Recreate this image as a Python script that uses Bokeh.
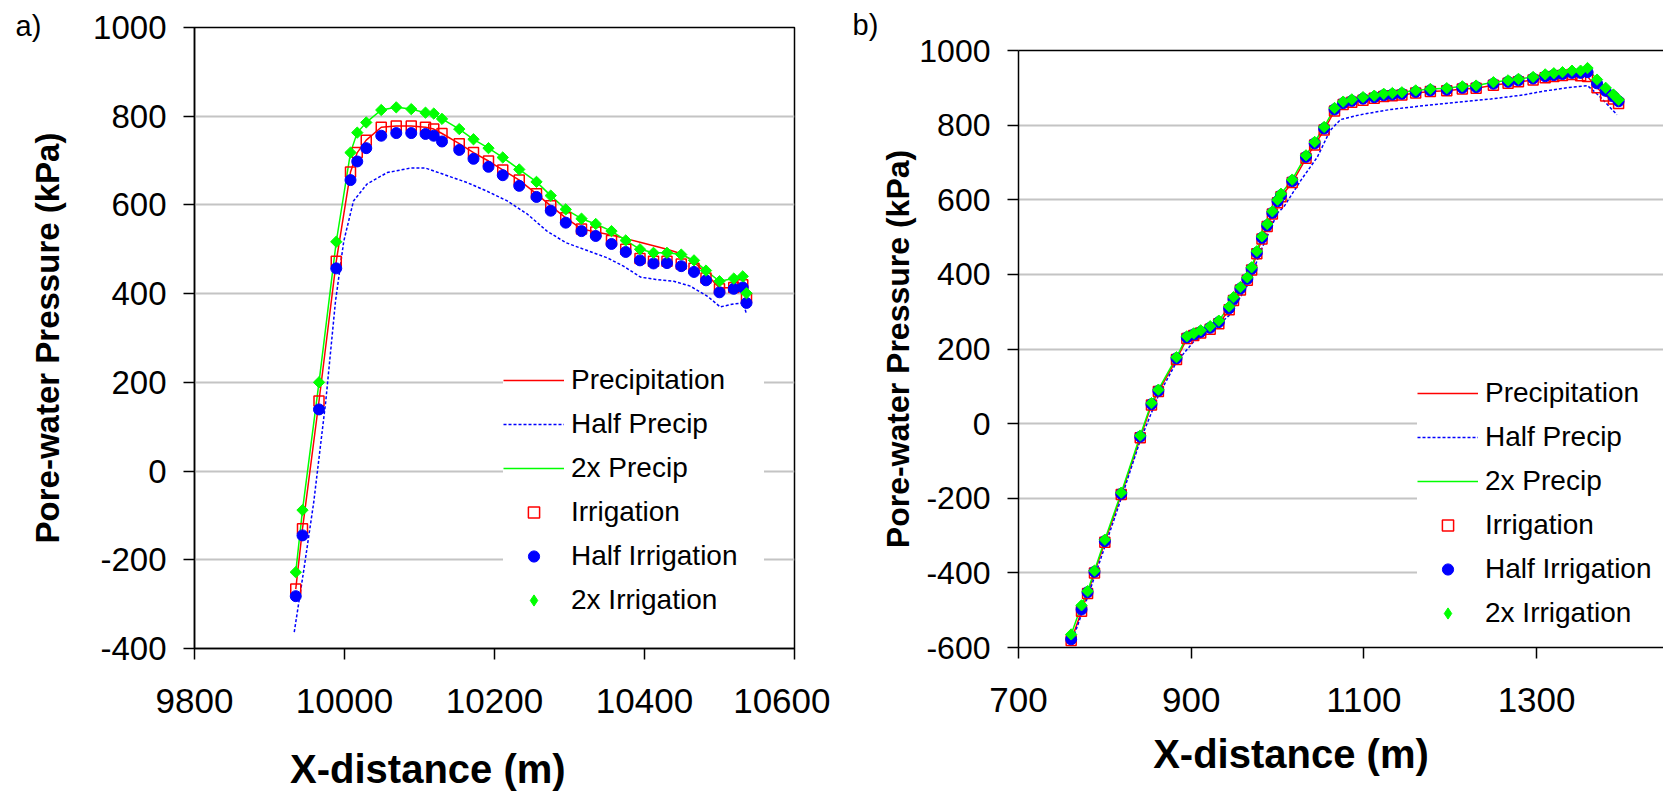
from bokeh.plotting import figure
from bokeh.models import (Range1d, FixedTicker, LinearAxis, Legend, LegendItem, Title)
from bokeh.layouts import row, column
from bokeh.embed import file_html
from bokeh.resources import INLINE
import math

FONT = "Liberation Sans"

# ---------------- Panel a) data ----------------
A_X = [9935, 9944, 9966, 9989, 10008, 10017, 10029, 10049, 10069, 10089, 10108, 10119,
       10130, 10153, 10172, 10192, 10211, 10233, 10256, 10275, 10295, 10316, 10335, 10356,
       10375, 10394, 10412, 10430, 10449, 10466, 10482, 10500, 10519, 10531, 10536]
A_PRECIP = [-266, -130, 158, 473, 674, 718, 746, 775, 778, 778, 775, 771,
            761, 738, 718, 699, 679, 656, 625, 598, 571, 546, 539, 532,
            524, 516, 508, 500, 490, 472, 445, 413, 414, 420, 390]
A_2X_PRECIP = [-228, -88, 200, 517, 718, 763, 786, 814, 820, 816, 808, 806,
               794, 771, 748, 728, 707, 680, 652, 621, 590, 569, 557, 541,
               520, 500, 492, 492, 488, 475, 452, 428, 434, 439, 401]
A_IRRIG = [-266, -130, 158, 473, 674, 718, 746, 775, 778, 778, 775, 771,
           761, 738, 718, 699, 679, 656, 625, 598, 571, 546, 539, 520,
           500, 479, 473, 473, 467, 457, 435, 411, 414, 420, 390]
A_HALF_IRRIG = [-282, -145, 139, 457, 656, 698, 728, 756, 762, 762, 760, 756,
                743, 724, 704, 686, 667, 643, 618, 587, 560, 541, 530, 512,
                494, 475, 468, 469, 462, 449, 430, 403, 411, 414, 379]
A_2X_IRRIG = [-228, -88, 200, 517, 718, 763, 786, 814, 820, 816, 808, 806,
              794, 771, 748, 728, 707, 680, 652, 621, 590, 569, 557, 541,
              520, 500, 492, 492, 488, 475, 452, 428, 434, 439, 401]
A_HALF_PRECIP_X = [9933, 9946, 9959, 9975, 9988, 9999, 10012, 10030, 10057, 10088, 10108,
                   10132, 10164, 10190, 10217, 10244, 10270, 10295, 10319, 10350, 10372,
                   10395, 10415, 10439, 10461, 10484, 10501, 10519, 10532, 10536]
A_HALF_PRECIP = [-363, -220, -70, 157, 383, 518, 609, 647, 673, 683, 683,
                 669, 650, 631, 609, 579, 541, 515, 500, 481, 462,
                 437, 432, 428, 417, 394, 370, 377, 379, 353]

# ---------------- Panel b) data ----------------
B_X = [761, 773, 780, 788, 800, 819, 841, 854, 862, 883, 895, 903, 911, 922, 932, 944,
       949, 957, 965, 970, 976, 982, 988, 994, 1000, 1004, 1017, 1033, 1043, 1054, 1066,
       1076, 1086, 1099, 1112, 1123, 1133, 1144, 1160, 1177, 1196, 1214, 1230, 1250, 1267,
       1279, 1296, 1310, 1320, 1330, 1341, 1351, 1359, 1370, 1380, 1389, 1395]
B_PRECIP = [-581, -503, -455, -400, -318, -190, -38, 50, 86, 172, 228, 236, 243, 253, 268, 305,
            330, 358, 384, 412, 455, 495, 528, 562, 592, 608, 646, 711, 747, 787, 838,
            855, 861, 867, 872, 877, 879, 881, 886, 890, 892, 897, 899, 907, 912,
            916, 921, 927, 930, 933, 936, 932, 930, 900, 878, 870, 858]
B_2X_PRECIP = [-565, -487, -449, -394, -311, -185, -32, 55, 91, 178, 234, 242, 250, 261, 276, 314,
               339, 366, 392, 419, 462, 502, 535, 569, 600, 616, 654, 719, 755, 795, 846,
               863, 869, 875, 879, 884, 886, 888, 893, 897, 899, 904, 906, 915, 920,
               924, 929, 936, 939, 942, 946, 946, 953, 922, 900, 882, 868]
B_IRRIG = [-581, -503, -455, -400, -318, -190, -38, 50, 86, 172, 228, 236, 243, 253, 268, 305,
           330, 358, 384, 412, 455, 495, 528, 562, 592, 608, 646, 711, 747, 787, 838,
           855, 861, 867, 872, 877, 879, 881, 886, 890, 892, 897, 899, 907, 912,
           916, 921, 927, 930, 933, 936, 932, 930, 900, 878, 870, 858]
B_HALF_IRRIG = [-578, -498, -452, -397, -315, -188, -35, 52, 88, 175, 231, 239, 246, 257, 272, 309,
                334, 362, 388, 415, 458, 498, 531, 565, 596, 612, 650, 715, 751, 791, 842,
                859, 865, 871, 875, 880, 882, 884, 889, 893, 895, 900, 902, 911, 916,
                920, 925, 931, 934, 937, 940, 940, 942, 912, 892, 877, 864]
B_2X_IRRIG = [-565, -487, -449, -394, -311, -185, -32, 55, 91, 178, 234, 242, 250, 261, 276, 314,
              339, 366, 392, 419, 462, 502, 535, 569, 600, 616, 654, 719, 755, 795, 846,
              863, 869, 875, 879, 884, 886, 888, 893, 897, 899, 904, 906, 915, 920,
              924, 929, 936, 939, 942, 946, 946, 953, 922, 900, 882, 868]
B_HALF_PRECIP_X = [761, 780, 800, 819, 841, 862, 883, 903, 922, 944, 965, 982, 1000, 1007,
                   1027, 1046, 1061, 1073, 1096, 1131, 1169, 1208, 1247, 1285, 1308, 1335,
                   1359, 1374, 1393]
B_HALF_PRECIP = [-590, -465, -330, -200, -45, 75, 165, 220, 245, 290, 370, 470, 565, 580,
                 652, 714, 786, 815, 828, 842, 852, 861, 870, 881, 891, 900,
                 906, 875, 828]

LABELS = ["Precipitation", "Half Precip", "2x Precip", "Irrigation", "Half Irrigation", "2x Irrigation"]
Y_TICKS_A = [-400, -200, 0, 200, 400, 600, 800, 1000]
X_TICKS_A = [9800, 10000, 10200, 10400, 10600]
Y_TICKS_B = [-600, -400, -200, 0, 200, 400, 600, 800, 1000]
X_TICKS_B = [700, 900, 1100, 1300]
Y_LABEL = "Pore-water Pressure (kPa)"
X_LABEL = "X-distance (m)"
NBSP = "\u00a0"

RED = "#FF0000"
BLUE = "#0000FF"
GREEN = "#00FF00"


def make_panel(width, height, xr, yr, xticks, yticks, borders, ytick_font,
               ylab_font, ylab_standoff, xlabel, xlab_font, xlab_standoff):
    left, right, top, bottom = borders
    p = figure(width=width, height=height, x_range=Range1d(*xr), y_range=Range1d(*yr),
               output_backend="svg", toolbar_location=None,
               min_border_left=left, min_border_right=right,
               min_border_top=top, min_border_bottom=bottom)
    if "frame_align" in p.properties():
        p.frame_align = False
    p.background_fill_color = "white"
    p.border_fill_color = "white"
    p.xgrid.grid_line_color = None
    p.ygrid.grid_line_color = "#C4C4C4"
    p.ygrid.grid_line_width = 2
    p.xaxis.ticker = FixedTicker(ticks=xticks)
    p.yaxis.ticker = FixedTicker(ticks=yticks)
    p.yaxis.major_label_overrides = {t: str(t) for t in yticks}
    for ax in (p.xaxis[0], p.yaxis[0]):
        ax.axis_line_color = "black"
        ax.axis_line_width = 1.5
        ax.major_tick_line_color = "black"
        ax.major_tick_line_width = 1.5
        ax.major_tick_in = 0
        ax.major_tick_out = 11
        ax.minor_tick_line_color = None
        ax.major_label_text_font = FONT
        ax.major_label_text_color = "black"
        ax.axis_label_text_font = FONT
        ax.axis_label_text_font_style = "bold"
        ax.axis_label_text_color = "black"
    p.xaxis.major_label_text_font_size = "35px"
    p.yaxis.major_label_text_font_size = ytick_font
    p.xaxis.major_label_standoff = 29
    p.yaxis.major_label_standoff = 17
    p.yaxis.axis_label = Y_LABEL
    p.yaxis.axis_label_text_font_size = ylab_font
    p.yaxis.axis_label_standoff = ylab_standoff
    p.xaxis.axis_label = xlabel
    p.xaxis.axis_label_text_font_size = xlab_font
    p.xaxis.axis_label_standoff = xlab_standoff
    return p


def add_series(p, xs, precip, half_px, half_p, x2_precip, irrig, half_irrig, x2_irrig):
    r1 = p.line(xs, precip, line_color=RED, line_width=1.5)
    r2 = p.line(half_px, half_p, line_color=BLUE, line_width=1.5, line_dash="3 2")
    r3 = p.line(xs, x2_precip, line_color=GREEN, line_width=1.5)
    r4 = p.scatter(xs, irrig, marker="square", size=10, line_color=RED, line_width=1.5,
                   fill_color="white", fill_alpha=0)
    r5 = p.scatter(xs, half_irrig, marker="circle", size=11, line_color=BLUE, fill_color=BLUE)
    p.scatter(xs, x2_irrig, marker="square", angle=math.pi / 4, size=8,
              line_color=GREEN, fill_color=GREEN)
    # legend swatch for the diamond markers (legend swatches ignore marker angle);
    # it holds no visible point
    r6 = p.scatter([float("nan")], [float("nan")], marker="diamond",
                   line_color=GREEN, fill_color=GREEN)
    return [r1, r2, r3, r4, r5, r6]


def add_legend(p, renderers, loc, padding):
    items = [LegendItem(label=lab, renderers=[r]) for lab, r in zip(LABELS, renderers)]
    lg = Legend(items=items, location=loc, padding=padding, spacing=12,
                glyph_width=61, glyph_height=28, label_height=28, label_width=193,
                label_standoff=7, label_text_font=FONT, label_text_font_size="28px",
                label_text_color="black", background_fill_color="white",
                background_fill_alpha=1, border_line_color=None, margin=0)
    p.add_layout(lg)


# ---------------- Panel a ----------------
pa = make_panel(830, 793, (9800, 10600), (-400, 1000), X_TICKS_A, Y_TICKS_A,
                (194, 36, 27, 145), "33px", "33px", 24,
                X_LABEL + NBSP * 12, "40px", 31)
pa.outline_line_color = "black"
pa.outline_line_width = 1.5
ra = add_series(pa, A_X, A_PRECIP, A_HALF_PRECIP_X, A_HALF_PRECIP, A_2X_PRECIP,
                A_IRRIG, A_HALF_IRRIG, A_2X_IRRIG)
add_legend(pa, ra, (309, 32), 30)
pa.add_layout(Title(text="a)", align="left", offset=-179, standoff=-28,
                    vertical_align="bottom", text_font=FONT, text_font_size="29px",
                    text_font_style="normal", text_color="black"), "above")

# ---------------- Panel b ----------------
pb = make_panel(833, 793, (700, 1447), (-600, 1000), X_TICKS_B, Y_TICKS_B,
                (188, 0, 50, 146), "32px", "32px", 0,
                X_LABEL + NBSP * 9, "40px", 17)
pb.outline_line_color = None
top_axis = LinearAxis(ticker=FixedTicker(ticks=[]), axis_line_color="black",
                      axis_line_width=1.5, major_tick_out=0, minor_tick_out=0,
                      major_label_text_font_size="0px")
pb.add_layout(top_axis, "above")
rb = add_series(pb, B_X, B_PRECIP, B_HALF_PRECIP_X, B_HALF_PRECIP, B_2X_PRECIP,
                B_IRRIG, B_HALF_IRRIG, B_2X_IRRIG)
add_legend(pb, rb, (399, 18), 9)
pb.add_layout(Title(text="b)", align="left", offset=-166, standoff=16,
                    vertical_align="top", text_font=FONT, text_font_size="29px",
                    text_font_style="normal", text_color="black"), "above")

layout = row(column(pa), column(pb))
open("out.html", "w").write(file_html(layout, INLINE))
